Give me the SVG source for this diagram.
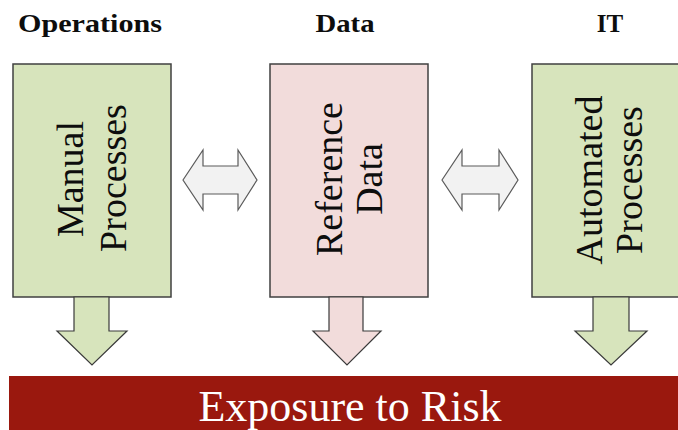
<svg xmlns="http://www.w3.org/2000/svg" width="678" height="430" viewBox="0 0 678 430">
<style>
.bg{fill:#ffffff}
.title{font-family:"Liberation Serif","Times New Roman",serif;font-weight:bold;font-size:25px;fill:#0d0d0d;text-anchor:middle}
.lbl{font-family:"Liberation Serif","Times New Roman",serif;font-size:38px;fill:#0d0d0d;text-anchor:middle}
.green{fill:#d7e4bc;stroke:#404040;stroke-width:1.5}
.pink{fill:#f2dcdb;stroke:#404040;stroke-width:1.5}
.darr-g{fill:#d7e4bc;stroke:#3a3a3a;stroke-width:1.2}
.darr-p{fill:#f2dcdb;stroke:#3a3a3a;stroke-width:1.2}
.harr{fill:#f2f2f2;stroke:#5a5a5a;stroke-width:1.2}
.banner{fill:#9a180e}
.btext{font-family:"Liberation Serif","Times New Roman",serif;font-size:44px;fill:#ffffff;text-anchor:middle}
</style>
<rect class="bg" x="0" y="0" width="678" height="430"/>
<g id="titles">
<text class="title" x="90" y="32" textLength="144" lengthAdjust="spacingAndGlyphs">Operations</text>
<text class="title" x="345" y="32" textLength="59" lengthAdjust="spacingAndGlyphs">Data</text>
<text class="title" x="610" y="32">IT</text>
</g>
<g id="manual">
<rect class="green" x="13" y="64" width="158" height="233"/>
<text class="lbl" transform="translate(83,179) rotate(-90)">Manual</text>
<text class="lbl" transform="translate(126,178) rotate(-90)">Processes</text>
</g>
<g id="reference">
<rect class="pink" x="270" y="64" width="158" height="233"/>
<text class="lbl" transform="translate(342,179) rotate(-90)">Reference</text>
<text class="lbl" transform="translate(382,179) rotate(-90)">Data</text>
</g>
<g id="automated">
<rect class="green" x="532" y="64" width="160" height="233"/>
<text class="lbl" transform="translate(602,180) rotate(-90)">Automated</text>
<text class="lbl" transform="translate(642,180) rotate(-90)">Processes</text>
</g>
<g id="risk">
<rect class="banner" x="9" y="376" width="680" height="60"/>
<text class="btext" x="350" y="421">Exposure to Risk</text>
</g>
<g id="connectors">
<polygon class="harr" points="183,180 203,150 203,166 238,166 238,150 257,180 238,210 238,194 203,194 203,210"/>
<polygon class="harr" points="442,180 462,150 462,166 499,166 499,150 518,180 499,210 499,194 462,194 462,210"/>
<polygon class="darr-g" points="74,297 109,297 109,331 127,331 92,365 57,331 74,331"/>
<polygon class="darr-p" points="329,297 363,297 363,331 381,331 347,365 313,331 329,331"/>
<polygon class="darr-g" points="593,297 629,297 629,331 647,331 611,365 575,331 593,331"/>
</g>
</svg>
